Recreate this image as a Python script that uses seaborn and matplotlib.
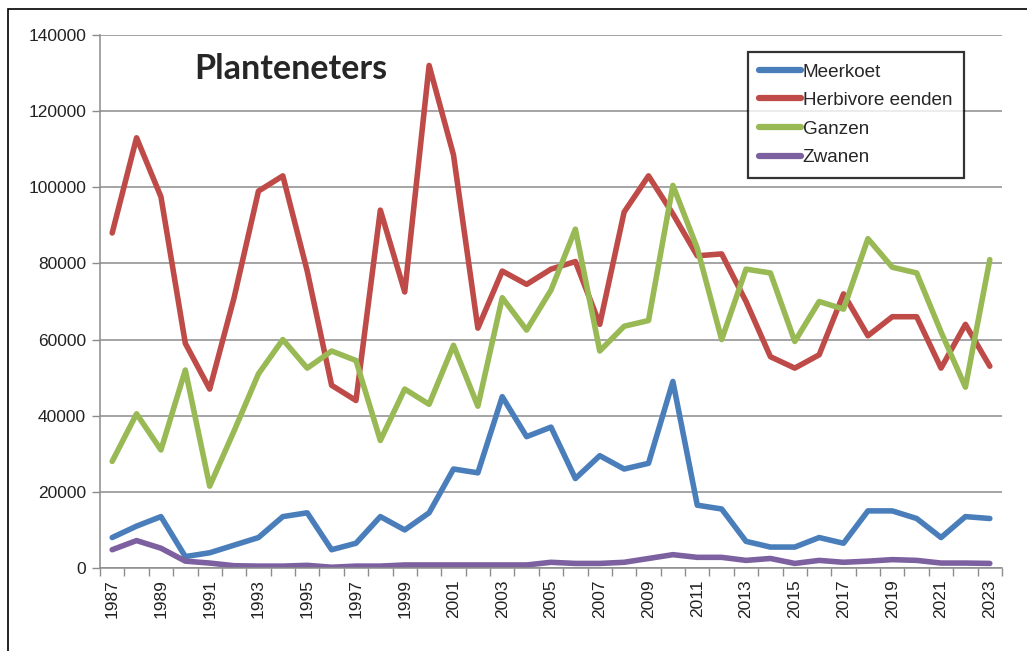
import numpy as np
import pandas as pd
import seaborn as sns
import matplotlib.pyplot as plt
from matplotlib.patches import Rectangle

years = list(range(1987, 2024))

meerkoet = [8000, 11000, 13500, 3000, 4000, 6000, 8000, 13500, 14500, 4800,
            6500, 13500, 10000, 14500, 26000, 25000, 45000, 34500, 37000, 23500,
            29500, 26000, 27500, 49000, 16500, 15500, 7000, 5500, 5500, 8000,
            6500, 15000, 15000, 13000, 8000, 13500, 13000]
herbivore_eenden = [88000, 113000, 97500, 59000, 47000, 71000, 99000, 103000, 78000, 48000,
                    44000, 94000, 72500, 132000, 108500, 63000, 78000, 74500, 78500, 80500,
                    64000, 93500, 103000, 93000, 82000, 82500, 70000, 55500, 52500, 56000,
                    72000, 61000, 66000, 66000, 52500, 64000, 53000]
ganzen = [28000, 40500, 31000, 52000, 21500, 36000, 51000, 60000, 52500, 57000,
          54500, 33500, 47000, 43000, 58500, 42500, 71000, 62500, 73000, 89000,
          57000, 63500, 65000, 100500, 84000, 60000, 78500, 77500, 59500, 70000,
          68000, 86500, 79000, 77500, 62000, 47500, 81000]
zwanen = [4800, 7200, 5200, 1800, 1300, 600, 500, 500, 700, 200,
          500, 500, 800, 800, 800, 800, 800, 800, 1500, 1200,
          1200, 1500, 2500, 3500, 2800, 2800, 2000, 2500, 1200, 2000,
          1500, 1800, 2200, 2000, 1300, 1300, 1200]

series_names = ["Meerkoet", "Herbivore eenden", "Ganzen", "Zwanen"]
colors = ["#4A7EBB", "#BE4B48", "#98B954", "#7D60A0"]

df = pd.DataFrame({
    "jaar": np.tile(np.arange(len(years)), 4),
    "aantal": meerkoet + herbivore_eenden + ganzen + zwanen,
    "groep": np.repeat(series_names, len(years)),
})

sns.set_style("white")
plt.rcParams['font.family'] = ['Liberation Sans', 'DejaVu Sans']

fig = plt.figure(figsize=(10.27, 6.51), dpi=100)
ax = fig.add_axes([100/1027, 1 - 568/651, 902/1027, 533/651])

sns.lineplot(data=df, x="jaar", y="aantal", hue="groep", hue_order=series_names,
             palette=colors, linewidth=4, ax=ax, legend=True)

ax.set_xlim(-0.5, len(years) - 0.5)
ax.set_ylim(0, 140000)
ax.set_yticks(np.arange(0, 140001, 20000))
ax.set_yticklabels([str(v) for v in range(0, 140001, 20000)], fontsize=12.5, color="#222222")
ax.yaxis.grid(True, color="#8c8c8c", linewidth=1.1)
ax.set_axisbelow(True)

# labels every other year, tick marks on category edges
ax.set_xticks(np.arange(0, len(years), 2))
ax.set_xticklabels([str(y) for y in years[::2]], rotation=90, fontsize=12.5, color="#222222")
ax.set_xticks(np.arange(-0.5, len(years)), minor=True)
ax.tick_params(axis="x", which="major", length=0, pad=8)
ax.tick_params(axis="x", which="minor", length=6, width=1, color="#8c8c8c", direction="out", bottom=True)
ax.tick_params(axis="y", length=6, width=1, color="#8c8c8c", direction="out", left=True, pad=4)
ax.set_xlabel("")
ax.set_ylabel("")

for s in ["top", "right"]:
    ax.spines[s].set_visible(False)
for s in ["left", "bottom"]:
    ax.spines[s].set_color("#8c8c8c")
    ax.spines[s].set_linewidth(1.1)

ax.text(0.105, 0.937, "Planteneters", transform=ax.transAxes, fontsize=24.5,
        fontweight="bold", family=["Lato", "DejaVu Sans"], va="center", ha="left")

handles, labels = ax.get_legend_handles_labels()
leg = ax.legend(handles, labels, loc="upper left", bbox_to_anchor=(748/1027, 1 - 52/651),
                bbox_transform=fig.transFigure, fontsize=13.6, frameon=True, fancybox=False,
                handlelength=2.2, handletextpad=0.1, labelspacing=0.6,
                borderpad=0.6, borderaxespad=0)
leg.get_frame().set_edgecolor("black")
leg.get_frame().set_linewidth(1.6)
for line in leg.get_lines():
    line.set_linewidth(4.5)

fig.patches.append(Rectangle((8/1027, -0.5), 2, 0.5 + 1 - 9/651, transform=fig.transFigure,
                             fill=False, edgecolor="black", linewidth=1.2))

fig.savefig("out.png", dpi=100)
